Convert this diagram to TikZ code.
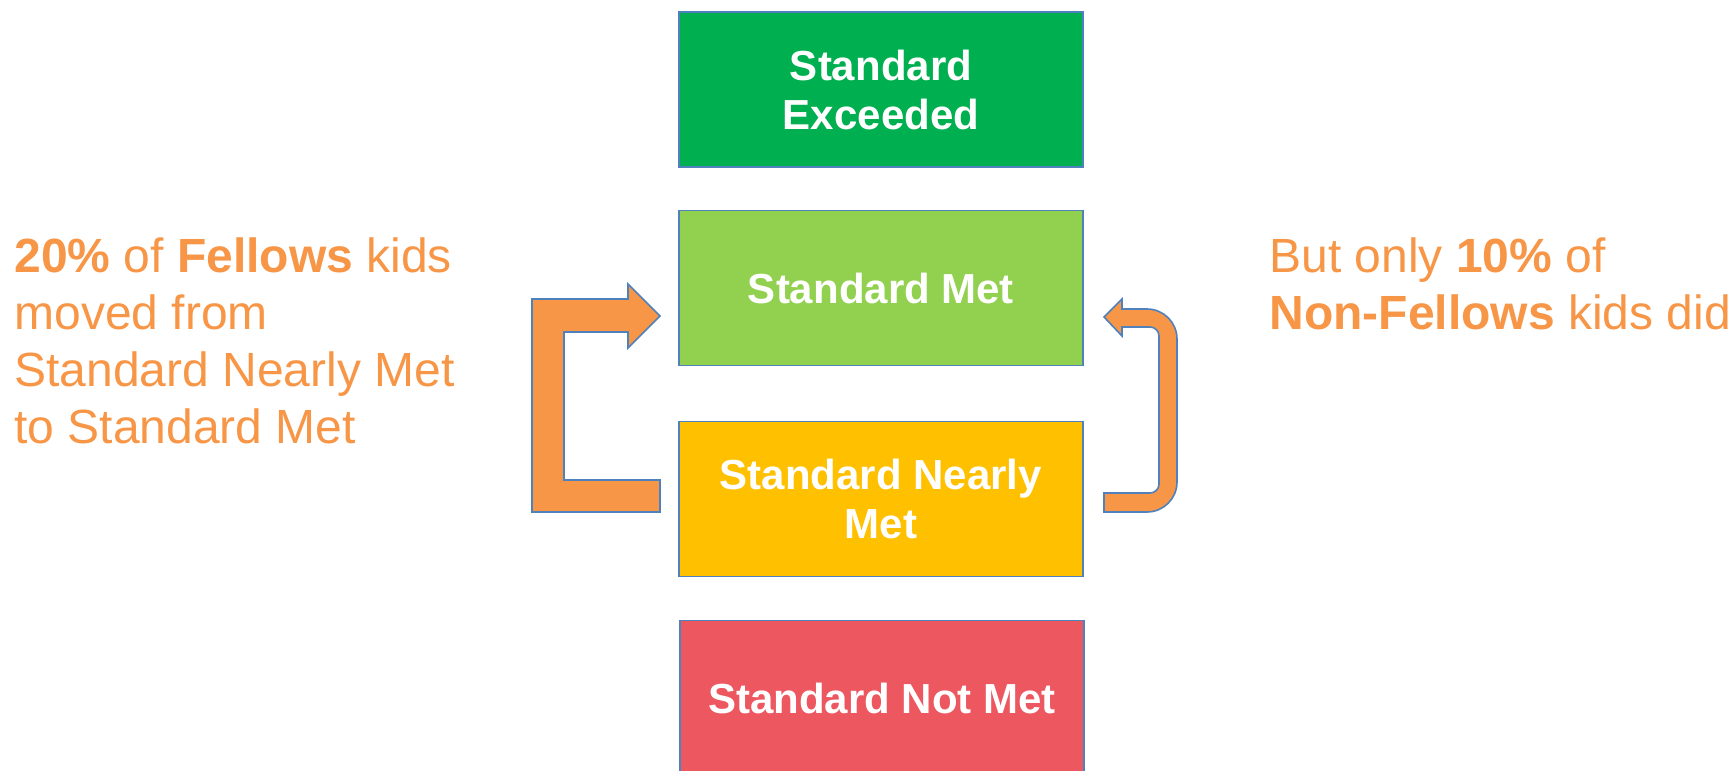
\documentclass[tikz,border=0pt]{standalone}
\usepackage{fontspec}
\setmainfont{Liberation Sans}
\definecolor{exceedgreen}{HTML}{00B050}
\definecolor{metgreen}{HTML}{92D050}
\definecolor{nearlygold}{HTML}{FFC000}
\definecolor{notmetred}{HTML}{EC5760}
\definecolor{arroworange}{HTML}{F79646}
\definecolor{edgeblue}{HTML}{4F81BD}
\begin{document}
\begin{tikzpicture}[x=0.5pt, y=-0.5pt,
	level/.style={draw=edgeblue, line width=0.8pt, minimum width=202pt, minimum height=77.5pt,
		inner sep=0pt, align=center, text=white, font=\fontsize{21}{24.5}\selectfont\bfseries},
	note/.style={anchor=north west, inner sep=0pt, align=left, text=arroworange,
		font=\fontsize{24}{28.5}\selectfont},
	blockarrow/.style={fill=arroworange, draw=edgeblue, line width=0.8pt, line join=miter}]
	\useasboundingbox (0,0) rectangle (1731,771);

	\draw (881, 89.5) node[level, fill=exceedgreen] (exceeded) {Standard\\Exceeded};
	\draw (881, 288) node[level, fill=metgreen] (met) {Standard Met};
	\draw (881, 499) node[level, fill=nearlygold] (nearly) {Standard Nearly\\Met};
	\draw (882, 698) node[level, fill=notmetred] (notmet) {Standard Not Met};

	\draw (14, 237) node[note] (fellows)
		{\textbf{20\%} of \textbf{Fellows} kids\\moved from\\Standard Nearly Met\\to Standard Met};
	\draw (1269, 237) node[note] (nonfellows)
		{But only \textbf{10\%} of\\\textbf{Non-Fellows} kids did};

	% Fellows: nearly met -> met
	\draw[blockarrow] (532,299) -- (628,299) -- (628,284) -- (660,316) -- (628,348) -- (628,332)
		-- (564,332) -- (564,480) -- (660,480) -- (660,512) -- (532,512) -- cycle;

	% Non-Fellows: nearly met -> met
	\draw[blockarrow] (1104,317) -- (1122,299) -- (1122,309) -- (1147,309) arc (-90:0:30)
		-- (1177,482) arc (0:90:30) -- (1104,512) -- (1104,493) -- (1150,493) arc (90:0:9)
		-- (1159,336) arc (0:-90:9) -- (1122,327) -- (1122,336) -- cycle;
\end{tikzpicture}
\end{document}
